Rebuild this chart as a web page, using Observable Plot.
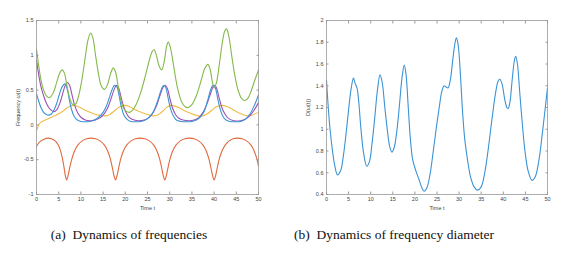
<!DOCTYPE html>
<html>
<head>
<meta charset="utf-8">
<script src="https://cdn.jsdelivr.net/npm/d3@7"></script>
<script src="https://cdn.jsdelivr.net/npm/@observablehq/plot@0.6"></script>
<style>
  body { margin: 0; background: #fff; width: 571px; height: 254px; overflow: hidden; position: relative; }
  .panel { position: absolute; top: 0; }
  .cap { position: absolute; top: 227px; font-family: "Liberation Serif", "Times New Roman", serif; font-size: 13.5px; color: #111; white-space: pre; transform: translateX(-50%); }
</style>
</head>
<body>
<div id="left" class="panel" style="left:0px"></div>
<div id="right" class="panel" style="left:290px"></div>
<div class="cap" style="left:129px">(a)  Dynamics of frequencies</div>
<div class="cap" style="left:394px">(b)  Dynamics of frequency diameter</div>
<script>
// ---- tick labels ----
const xTicks = [0, 5, 10, 15, 20, 25, 30, 35, 40, 45, 50];
const yTicksLeft = [-1, -0.5, 0, 0.5, 1, 1.5];
const yTicksRight = [0.4, 0.6, 0.8, 1, 1.2, 1.4, 1.6, 1.8, 2];

// ---- series (time, value) ----
const green = [[0,1.09],[0.5,0.85],[1,0.65],[1.5,0.52],[2.2,0.42],[2.9,0.39],[3.7,0.45],[4.5,0.6],[5.2,0.74],[5.8,0.79],[6.3,0.74],[6.9,0.55],[7.5,0.38],[8.2,0.29],[8.8,0.3],[9.5,0.42],[10.3,0.68],[11,0.98],[11.6,1.22],[12.2,1.32],[12.7,1.25],[13.3,1.0],[14,0.72],[14.6,0.56],[15.3,0.51],[16,0.58],[16.7,0.74],[17.3,0.82],[17.8,0.76],[18.4,0.55],[19.1,0.33],[19.8,0.22],[20.8,0.18],[21.6,0.21],[22.5,0.3],[23.5,0.47],[24.5,0.7],[25.5,0.95],[26.1,1.06],[26.5,1.08],[27,1.0],[27.6,0.85],[28.2,0.79],[28.8,0.92],[29.3,1.13],[29.7,1.19],[30.2,1.1],[31,0.8],[31.8,0.52],[32.7,0.33],[33.5,0.26],[34.2,0.25],[35,0.29],[36,0.42],[37,0.62],[37.9,0.81],[38.6,0.87],[39.1,0.8],[39.6,0.62],[40,0.53],[40.5,0.6],[41.2,0.88],[41.9,1.2],[42.4,1.35],[42.8,1.38],[43.3,1.28],[44,0.98],[44.7,0.7],[45.4,0.5],[46.2,0.38],[46.9,0.35],[47.6,0.38],[48.3,0.48],[49.1,0.63],[50,0.79]];
const blue = [[0,0.45],[0.5,0.34],[1,0.25],[1.6,0.18],[2.2,0.15],[2.8,0.14],[3.4,0.16],[4,0.22],[4.6,0.32],[5.2,0.45],[5.8,0.55],[6.4,0.59],[6.9,0.52],[7.4,0.36],[7.9,0.22],[8.5,0.12],[9.2,0.07],[10,0.05],[11,0.045],[12,0.05],[13,0.07],[14,0.11],[15,0.18],[15.8,0.28],[16.5,0.41],[17.1,0.52],[17.6,0.57],[18.1,0.55],[18.6,0.42],[19.1,0.26],[19.7,0.14],[20.4,0.08],[21.2,0.05],[22.5,0.045],[23.5,0.05],[24.5,0.07],[25.5,0.12],[26.4,0.2],[27.2,0.33],[27.9,0.47],[28.4,0.55],[28.7,0.57],[29.1,0.54],[29.6,0.4],[30.2,0.23],[30.8,0.13],[31.5,0.07],[32.5,0.05],[34,0.045],[35,0.05],[36,0.07],[37,0.12],[37.8,0.2],[38.5,0.34],[39.1,0.48],[39.6,0.56],[39.9,0.57],[40.3,0.53],[40.8,0.38],[41.4,0.22],[42,0.12],[42.7,0.07],[43.5,0.05],[45,0.045],[46,0.05],[47,0.08],[48,0.15],[49,0.27],[50,0.43]];
const purple = [[0,0.93],[0.5,0.72],[1,0.55],[1.6,0.42],[2.3,0.3],[3,0.23],[3.9,0.19],[4.6,0.22],[5.3,0.32],[5.9,0.45],[6.5,0.57],[7,0.61],[7.5,0.56],[8,0.43],[8.6,0.28],[9.3,0.17],[10,0.11],[11,0.07],[12,0.06],[13,0.065],[14,0.09],[15,0.14],[16,0.24],[16.8,0.38],[17.5,0.51],[18,0.57],[18.5,0.53],[19,0.41],[19.6,0.27],[20.3,0.16],[21,0.1],[22,0.07],[23,0.06],[24,0.065],[25,0.09],[26,0.15],[27,0.27],[27.8,0.42],[28.5,0.54],[29,0.57],[29.5,0.52],[30,0.39],[30.6,0.25],[31.3,0.15],[32,0.1],[33,0.07],[34.5,0.06],[35.5,0.07],[36.5,0.1],[37.5,0.18],[38.5,0.32],[39.3,0.47],[39.8,0.55],[40.2,0.57],[40.7,0.5],[41.2,0.37],[41.8,0.24],[42.5,0.15],[43.3,0.09],[44.5,0.06],[46,0.06],[47,0.08],[48,0.13],[49,0.21],[50,0.32]];
const yellow = [[0,-0.08],[0.5,0.0],[1,0.04],[2,0.07],[3,0.1],[4,0.13],[5,0.16],[6,0.2],[7,0.25],[8.2,0.28],[9.5,0.26],[11,0.21],[12.5,0.17],[14,0.14],[15.5,0.13],[16.5,0.15],[17.5,0.2],[18.5,0.25],[19.8,0.28],[21,0.26],[22.5,0.21],[24,0.17],[25.5,0.14],[26.5,0.13],[27.5,0.15],[28.5,0.2],[29.5,0.26],[30.5,0.28],[32,0.25],[33.5,0.2],[35,0.16],[36.5,0.13],[37.5,0.13],[38.5,0.16],[39.5,0.21],[40.5,0.26],[41.7,0.28],[43,0.26],[44.5,0.21],[46,0.16],[47.5,0.13],[48.5,0.14],[50,0.18]];
const red = [[0,-0.31],[0.5,-0.26],[1,-0.23],[1.7,-0.205],[2.6,-0.19],[3.4,-0.2],[4.2,-0.23],[4.9,-0.29],[5.4,-0.37],[5.8,-0.47],[6.2,-0.61],[6.5,-0.73],[6.8,-0.79],[7.1,-0.73],[7.5,-0.61],[8,-0.48],[8.6,-0.37],[9.3,-0.29],[10.3,-0.23],[11.3,-0.2],[12.3,-0.19],[13.3,-0.2],[14.3,-0.23],[15.3,-0.29],[16,-0.37],[16.6,-0.48],[17.1,-0.62],[17.5,-0.74],[17.8,-0.79],[18.1,-0.74],[18.5,-0.62],[19,-0.48],[19.6,-0.37],[20.3,-0.29],[21.3,-0.23],[22.3,-0.2],[23.4,-0.19],[24.4,-0.2],[25.4,-0.23],[26.4,-0.29],[27.1,-0.37],[27.7,-0.48],[28.2,-0.62],[28.6,-0.74],[28.9,-0.79],[29.2,-0.74],[29.6,-0.62],[30.1,-0.48],[30.7,-0.37],[31.4,-0.29],[32.4,-0.23],[33.4,-0.2],[34.45,-0.19],[35.5,-0.2],[36.5,-0.23],[37.5,-0.29],[38.2,-0.37],[38.8,-0.48],[39.3,-0.62],[39.7,-0.74],[40,-0.79],[40.3,-0.74],[40.7,-0.62],[41.2,-0.48],[41.8,-0.37],[42.5,-0.29],[43.4,-0.23],[44.3,-0.2],[45.3,-0.19],[46.3,-0.2],[47.3,-0.23],[48.3,-0.29],[49,-0.37],[49.6,-0.48],[50,-0.59]];
const diameter = [[0,1.45],[0.4,1.2],[0.8,1.0],[1.3,0.82],[1.8,0.68],[2.5,0.58],[3.2,0.62],[3.8,0.75],[4.4,0.95],[5,1.18],[5.6,1.38],[6.1,1.47],[6.5,1.42],[6.9,1.38],[7.3,1.25],[7.8,1.0],[8.4,0.78],[9.1,0.66],[9.7,0.7],[10.3,0.87],[10.9,1.1],[11.5,1.35],[12.1,1.5],[12.6,1.43],[13.2,1.2],[13.8,0.98],[14.3,0.84],[14.8,0.79],[15.3,0.83],[15.9,0.98],[16.5,1.22],[17.1,1.48],[17.6,1.59],[18,1.5],[18.5,1.2],[19,0.9],[19.5,0.72],[20.2,0.62],[21,0.53],[21.6,0.46],[22.1,0.43],[22.7,0.46],[23.4,0.58],[24.1,0.78],[24.8,1.0],[25.5,1.2],[26.1,1.35],[26.6,1.4],[27,1.39],[27.5,1.38],[28,1.45],[28.6,1.65],[29.1,1.8],[29.4,1.84],[29.8,1.77],[30.3,1.5],[30.8,1.15],[31.3,0.9],[31.9,0.72],[32.6,0.56],[33.4,0.47],[34.2,0.44],[35,0.47],[35.8,0.6],[36.6,0.82],[37.4,1.08],[38.2,1.32],[38.8,1.44],[39.2,1.46],[39.7,1.42],[40.3,1.28],[40.8,1.2],[41.1,1.19],[41.5,1.25],[42,1.45],[42.5,1.63],[42.8,1.67],[43.2,1.6],[43.7,1.35],[44.3,1.05],[44.9,0.8],[45.6,0.62],[46.5,0.53],[47.2,0.56],[48,0.7],[48.8,0.95],[49.5,1.2],[50,1.38]];

const C = {blue:"#3b93d6", red:"#e0693d", yellow:"#efbc48", purple:"#9a52b3", green:"#86b84b"};
const leftSeries = [
  {data: red, color: C.red},
  {data: yellow, color: C.yellow},
  {data: purple, color: C.purple},
  {data: blue, color: C.blue},
  {data: green, color: C.green}
];

const AX = "#9a9a9a";
const TXT = "#444";
function axes(yTicks, ylabel) {
  return [
    Plot.frame({stroke: AX, strokeWidth: 0.8}),
    Plot.axisX(xTicks, {anchor: "bottom", tickSize: -2.5, stroke: AX, text: null, label: null}),
    Plot.axisX(xTicks, {anchor: "top", tickSize: -2.5, stroke: AX, text: null, label: null}),
    Plot.axisY(yTicks, {anchor: "left", tickSize: -2.5, stroke: AX, text: null, label: null}),
    Plot.axisY(yTicks, {anchor: "right", tickSize: -2.5, stroke: AX, text: null, label: null}),
    Plot.axisX(xTicks, {anchor: "bottom", tickSize: 0, tickPadding: 3, fill: TXT, fontSize: 5.5, label: "Time t", labelAnchor: "center", labelArrow: "none", labelOffset: 15}),
    Plot.axisY(yTicks, {anchor: "left", tickSize: 0, tickPadding: 3, fill: TXT, fontSize: 5.5, tickFormat: d => String(d), label: ylabel, labelAnchor: "center", labelArrow: "none", labelOffset: 20})
  ];
}

const common = {height: 215, marginTop: 20, marginBottom: 21, style: {fontFamily: "'Liberation Sans', Arial, sans-serif", fontSize: "6px", color: TXT, background: "transparent"}};

const leftPlot = Plot.plot({
  ...common, width: 285, marginLeft: 36, marginRight: 27,
  x: {domain: [0, 50]},
  y: {domain: [-1, 1.5]},
  marks: [
    ...leftSeries.map(s => Plot.line(s.data, {x: d => d[0], y: d => d[1], stroke: s.color, strokeWidth: 1.1, curve: "catmull-rom"})),
    ...axes(yTicksLeft, "Frequency ω(t)")
  ]
});
document.getElementById("left").appendChild(leftPlot);

const rightPlot = Plot.plot({
  ...common, width: 281, marginLeft: 36, marginRight: 24,
  x: {domain: [0, 50]},
  y: {domain: [0.4, 2]},
  marks: [
    Plot.line(diameter, {x: d => d[0], y: d => d[1], stroke: C.blue, strokeWidth: 1.1, curve: "catmull-rom"}),
    ...axes(yTicksRight, "D(ω(t))")
  ]
});
document.getElementById("right").appendChild(rightPlot);
</script>
</body>
</html>
